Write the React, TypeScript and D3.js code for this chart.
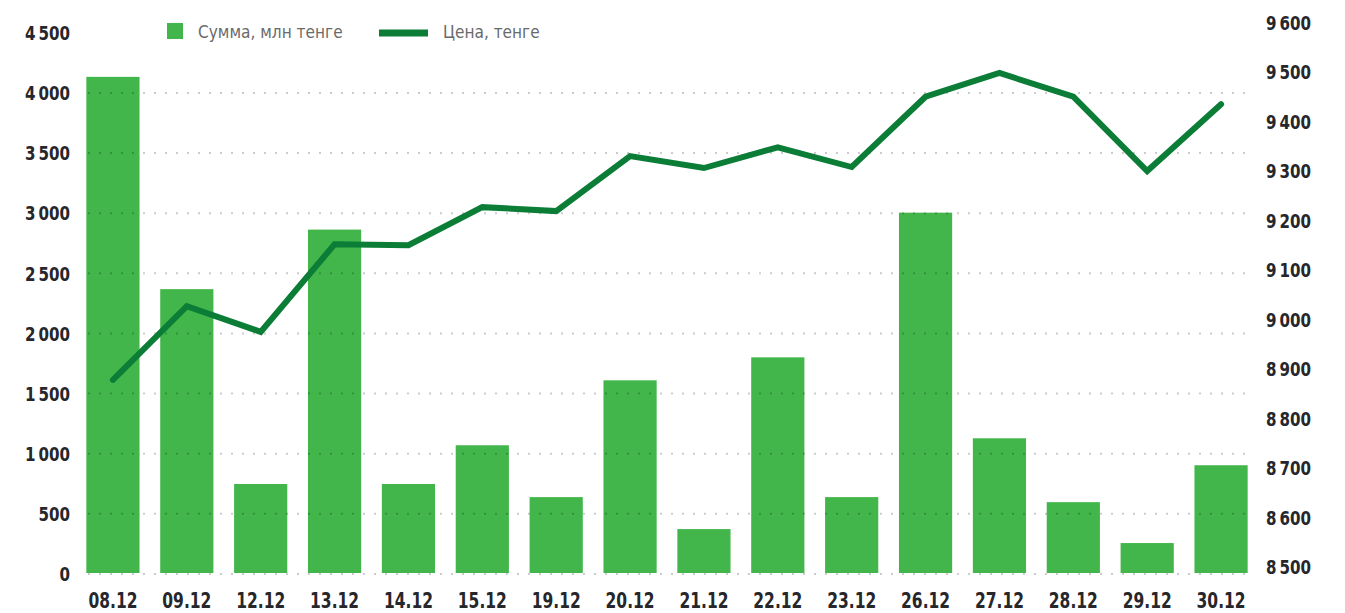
import React from 'react';
import * as d3 from 'd3';

const dates = ['08.12', '09.12', '12.12', '13.12', '14.12', '15.12', '19.12', '20.12', '21.12', '22.12', '23.12', '26.12', '27.12', '28.12', '29.12', '30.12'];
const amount = [4125, 2360, 740, 2855, 740, 1062, 631, 1602, 365, 1793, 631, 2996, 1120, 589, 249, 896];
const price = [8878, 9027, 8975, 9152, 9150, 9227, 9219, 9330, 9306, 9348, 9308, 9450, 9498, 9450, 9300, 9435];

const leftTicks = [0, 500, 1000, 1500, 2000, 2500, 3000, 3500, 4000, 4500];
const leftLabels = ['0', '500', '1\u2009000', '1\u2009500', '2\u2009000', '2\u2009500', '3\u2009000', '3\u2009500', '4\u2009000', '4\u2009500'];
const rightTicks = [8500, 8600, 8700, 8800, 8900, 9000, 9100, 9200, 9300, 9400, 9500, 9600];
const rightLabels = ['8\u2009500', '8\u2009600', '8\u2009700', '8\u2009800', '8\u2009900', '9\u2009000', '9\u2009100', '9\u2009200', '9\u2009300', '9\u2009400', '9\u2009500', '9\u2009600'];

const legendLabels = ['Сумма, млн тенге', 'Цена, тенге'];

const W = 1345;
const H = 613;
const barColor = '#42b64a';
const lineColor = '#0b7d37';
const labelFont = "'DejaVu Sans Condensed', 'DejaVu Sans', sans-serif";
const legendFont = "'DejaVu Sans Condensed', 'DejaVu Sans', sans-serif";
const squeeze = 0.84;

export default function App() {
  const x = d3.scaleBand().domain(dates).range([76, 1258]).paddingInner(0.28).paddingOuter(0.14);
  const yL = d3.scaleLinear().domain([0, 4500]).range([573, 31.75]);
  const yR = d3.scaleLinear().domain([8500, 9600]).range([567, 22.5]);

  const line = d3.line<number>()
    .x((_, i) => x(dates[i])! + x.bandwidth() / 2)
    .y(d => yR(d));

  return (
    <svg width={W} height={H} style={{ position: 'absolute', left: 0, top: 0, background: '#fff' }}>
      {amount.map((v, i) => (
        <rect key={dates[i]} x={x(dates[i])} y={yL(v)} width={x.bandwidth()} height={yL(0) - yL(v)} fill={barColor} />
      ))}

      {leftTicks.filter(t => t < 4500).map(t => (
        <line key={'g' + t} x1={88} x2={1252} y1={yL(t) + 1} y2={yL(t) + 1}
          stroke="#000" strokeOpacity={0.2} strokeWidth={2} strokeDasharray="2,9" />
      ))}

      <path d={line(price) || ''} fill="none" stroke={lineColor} strokeWidth={6} strokeLinejoin="miter" strokeLinecap="round" />

      {leftTicks.map((t, i) => (
        <text key={'l' + t} transform={`translate(70,${yL(t) + 1}) scale(${squeeze},1)`} dy="0.36em" textAnchor="end"
          fontFamily={labelFont} fontWeight="bold" fontSize={20} fill="#26262b">{leftLabels[i]}</text>
      ))}
      {rightTicks.map((t, i) => (
        <text key={'r' + t} transform={`translate(1266,${yR(t)}) scale(${squeeze},1)`} dy="0.36em" textAnchor="start"
          fontFamily={labelFont} fontWeight="bold" fontSize={20} fill="#26262b">{rightLabels[i]}</text>
      ))}
      {dates.map(d => (
        <text key={'x' + d} transform={`translate(${x(d)! + x.bandwidth() / 2},608) scale(0.82,1)`} textAnchor="middle"
          fontFamily={labelFont} fontWeight="bold" fontSize={21} fill="#26262b">{d}</text>
      ))}

      <rect x={167} y={23} width={16} height={16} fill={barColor} />
      <text transform="translate(198,38) scale(0.95,1)" fontFamily={legendFont} fontSize={18} fill="#6a6a6a">{legendLabels[0]}</text>
      <line x1={379} x2={428} y1={33} y2={33} stroke={lineColor} strokeWidth={7} />
      <text transform="translate(443,38) scale(0.95,1)" fontFamily={legendFont} fontSize={18} fill="#6a6a6a">{legendLabels[1]}</text>
    </svg>
  );
}
